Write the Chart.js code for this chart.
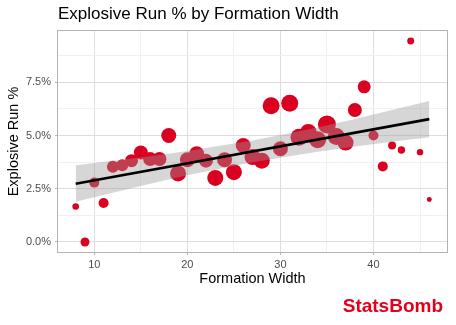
<!DOCTYPE html>
<html>
<head>
<meta charset="utf-8">
<script src="https://cdn.jsdelivr.net/npm/chart.js@4/dist/chart.umd.min.js"></script>
<style>
  body { margin: 0; background: #fff; }
  #wrap { width: 456px; height: 325px; }
</style>
</head>
<body>
<div id="wrap"><canvas id="runChart" width="456" height="325"></canvas></div>
<script>
// formation width (x) vs explosive run rate (%), bubble size = plays
var widths = [8, 9, 10, 11, 12, 13, 14, 15, 16, 17, 18, 19, 20, 21, 22, 23, 24, 25, 26, 27,
              28, 29, 30, 31, 32, 33, 34, 35, 36, 37, 38, 39, 40, 41, 42, 43, 44, 45, 46];
var explosiveRate = [1.67, 0.00, 2.79, 1.83, 3.53, 3.60, 3.82, 4.20, 3.90, 3.90, 5.00, 3.22, 3.86, 4.14,
                     3.82, 3.01, 3.86, 3.28, 4.53, 3.99, 3.82, 6.40, 4.38, 6.52, 4.92, 5.14, 4.80, 5.52,
                     4.95, 4.67, 6.20, 7.29, 5.00, 3.55, 4.53, 4.32, 9.44, 4.22, 2.00];
var plays = [98, 182, 225, 225, 324, 324, 380, 441, 441, 441, 506, 576, 506, 506, 441, 576, 506, 576, 506, 576,
             576, 650, 506, 650, 650, 650, 650, 729, 650, 576, 441, 380, 225, 225, 144, 123, 110, 92, 56];

// lm fit and its confidence band
var fitX = [8, 46];
var fitY = [2.74, 5.77];
var bandX = [8, 12, 16, 20, 24, 27, 30, 34, 38, 42, 46];
var bandLow = [1.89, 2.31, 2.73, 3.13, 3.49, 3.74, 3.96, 4.24, 4.48, 4.71, 4.92];
var bandHigh = [3.60, 3.81, 4.03, 4.27, 4.55, 4.77, 5.02, 5.38, 5.78, 6.20, 6.62];

var yTicks = [0, 2.5, 5, 7.5];
var xTicks = [10, 20, 30, 40];

function onMajor(v, list) {
    return list.some(function (t) { return Math.abs(t - v) < 1e-6; });
}
function pairs(xs, ys) {
    return xs.map(function (x, i) { return {x: x, y: ys[i]}; });
}

Chart.defaults.font.family = '"Liberation Sans", Arial, sans-serif';

var panelBorder = {
    id: 'panelBorder',
    afterDatasetsDraw: function (chart) {
        var a = chart.chartArea, ctx = chart.ctx;
        ctx.save();
        ctx.strokeStyle = '#B3B3B3';
        ctx.lineWidth = 1;
        ctx.strokeRect(Math.round(a.left) - 0.5, Math.round(a.top) - 0.5,
                       Math.round(a.width) + 1, Math.round(a.height) + 1);
        ctx.restore();
    }
};

var watermark = {
    id: 'watermark',
    afterDraw: function (chart) {
        var ctx = chart.ctx;
        ctx.save();
        ctx.fillStyle = '#E2001B';
        ctx.font = 'bold 19px "Liberation Sans", Arial, sans-serif';
        ctx.textAlign = 'right';
        ctx.textBaseline = 'alphabetic';
        ctx.fillText('StatsBomb', 443, 312);
        ctx.restore();
    }
};

var ctx = document.getElementById('runChart').getContext('2d');
var runChart = new Chart(ctx, {
    type: 'bubble',
    data: {
        datasets: [{
                type: 'line',
                data: pairs(bandX, bandLow),
                borderWidth: 0,
                pointRadius: 0,
                fill: false,
                order: 2
            }, {
                type: 'line',
                data: pairs(bandX, bandHigh),
                borderWidth: 0,
                pointRadius: 0,
                backgroundColor: 'rgba(153, 153, 153, 0.4)',
                fill: '-1',
                order: 1
            }, {
                type: 'line',
                data: pairs(fitX, fitY),
                borderColor: '#000000',
                borderWidth: 2.6,
                pointRadius: 0,
                fill: false,
                order: 0
            }, {
                data: widths.map(function (w, i) {
                    return {x: w, y: explosiveRate[i], r: Math.sqrt(plays[i]) / 3};
                }),
                backgroundColor: '#DA0020',
                borderWidth: 0,
                order: 3
            }]
    },
    options: {
        responsive: false,
        animation: false,
        events: [],
        layout: {
            padding: {left: 0, right: 8, top: 0, bottom: 33.6}
        },
        scales: {
            x: {
                type: 'linear',
                min: 6.1,
                max: 47.9,
                afterFit: function (scale) { scale.height = 39.4; },
                border: {display: false},
                grid: {
                    color: function (c) { return c.tick && onMajor(c.tick.value, xTicks) ? '#DEDEDE' : '#F0F0F0'; },
                    tickColor: function (c) { return c.tick && onMajor(c.tick.value, xTicks) ? '#B3B3B3' : 'rgba(0,0,0,0)'; },
                    tickLength: 3
                },
                ticks: {
                    stepSize: 5,
                    includeBounds: false,
                    padding: 3,
                    color: '#4D4D4D',
                    font: {size: 11},
                    maxRotation: 0,
                    autoSkip: false,
                    callback: function (v) { return onMajor(v, xTicks) ? String(v) : ''; }
                },
                title: {
                    display: true,
                    text: 'Formation Width',
                    color: '#000000',
                    font: {size: 14.5},
                    padding: {top: 0, bottom: 4}
                }
            },
            y: {
                type: 'linear',
                min: -0.47,
                max: 9.91,
                afterFit: function (scale) { scale.width = 58; },
                border: {display: false},
                grid: {
                    color: function (c) { return c.tick && onMajor(c.tick.value, yTicks) ? '#DEDEDE' : '#F0F0F0'; },
                    tickColor: function (c) { return c.tick && onMajor(c.tick.value, yTicks) ? '#B3B3B3' : 'rgba(0,0,0,0)'; },
                    tickLength: 3
                },
                ticks: {
                    stepSize: 1.25,
                    includeBounds: false,
                    padding: 4,
                    color: '#4D4D4D',
                    font: {size: 11},
                    autoSkip: false,
                    callback: function (v) { return onMajor(v, yTicks) ? v.toFixed(1) + '%' : ''; }
                },
                title: {
                    display: true,
                    text: 'Explosive Run %',
                    color: '#000000',
                    font: {size: 14.5},
                    padding: {top: 5, bottom: 0}
                }
            }
        },
        plugins: {
            legend: {display: false},
            tooltip: {enabled: false},
            title: {
                display: true,
                text: 'Explosive Run % by Formation Width',
                align: 'start',
                fullSize: false,
                color: '#000000',
                font: {size: 17, weight: 'normal'},
                padding: {top: 4, bottom: 6.6}
            }
        }
    },
    plugins: [panelBorder, watermark]
});
</script>
</body>
</html>
